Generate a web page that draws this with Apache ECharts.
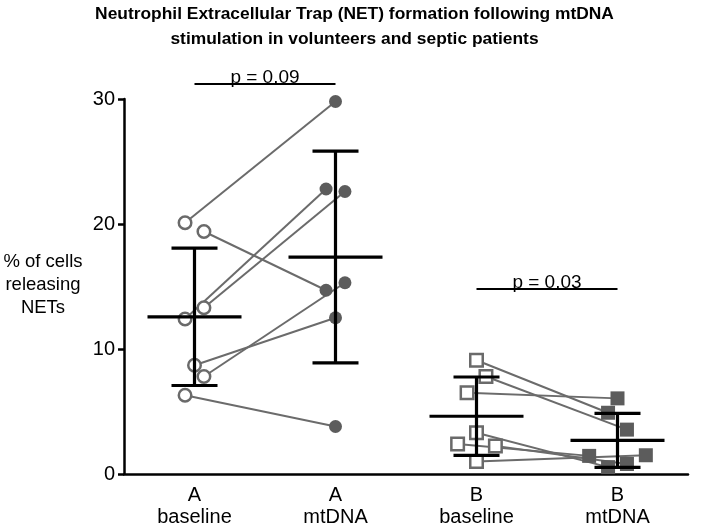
<!DOCTYPE html>
<html>
<head>
<meta charset="utf-8">
<script src="https://cdn.jsdelivr.net/npm/echarts@6/dist/echarts.min.js"></script>
<style>html,body{margin:0;padding:0;background:#fff}#c{width:709px;height:524px}</style>
</head>
<body>
<div id="c"></div>
<script>
// ---- data ----
const categories = ['A\nbaseline', 'A\nmtDNA', 'B\nbaseline', 'B\nmtDNA'];
const yTicks = [0, 10, 20, 30];
// paired subjects (same index = same subject)
const aBaseline = [20.1, 19.4, 12.4, 13.3, 8.7, 7.8, 6.3];
const aMtDNA    = [29.8, 14.7, 22.8, 22.6, 12.5, 15.3, 3.8];
const bBaseline = [9.1, 7.8, 6.5, 3.3, 2.4, 2.25, 1.0];
const bMtDNA    = [4.9, 3.55, 6.05, 0.55, 1.45, 0.8, 1.5];
// horizontal scatter (jitter) steps of the points, per subject
const aBaseJit = [-1, 1, -1, 1, 0, 1, -1];
const aMtJit   = [0, -1, -1, 1, 0, 1, 0];
const bBaseJit = [0, 1, -1, 0, -2, 2, 0];
const bMtJit   = [-1, 1, 0, -1, -3, 1, 3];
const pValues = [
  {from: 0, to: 1, y: 31.2, text: 'p = 0.09'},
  {from: 2, to: 3, y: 14.8, text: 'p = 0.03'}
];

// ---- helpers ----
const JSTEP = 0.067;
const FONT = '"Liberation Sans", Arial, Helvetica, sans-serif';
function mean(a){ return a.reduce((s,v)=>s+v,0)/a.length; }
function sd(a){ const m=mean(a); return Math.sqrt(a.reduce((s,v)=>s+(v-m)*(v-m),0)/(a.length-1)); }
function pts(vals, jit, cat){ return vals.map((v,i)=>[cat + jit[i]*JSTEP, v]); }

const groups = [aBaseline, aMtDNA, bBaseline, bMtDNA];
const stats = groups.map((g,i)=>[i, mean(g), sd(g)]);

const series = [];
// connecting lines
function pairLines(base, mt, bj, mj, c0){
  base.forEach((v,i)=>{
    series.push({
      type:'line', xAxisIndex:1, symbol:'none', silent:true, z:1,
      lineStyle:{color:'#6b6b6b', width:2},
      data:[[c0 + bj[i]*JSTEP, v],[c0+1 + mj[i]*JSTEP, mt[i]]]
    });
  });
}
pairLines(aBaseline, aMtDNA, aBaseJit, aMtJit, 0);
pairLines(bBaseline, bMtDNA, bBaseJit, bMtJit, 2);

// markers
series.push({type:'scatter', xAxisIndex:1, z:3, symbol:'circle', symbolSize:12.5,
  itemStyle:{color:'#fff', borderColor:'#6a6a6a', borderWidth:2.5, opacity:1},
  data: pts(aBaseline, aBaseJit, 0)});
series.push({type:'scatter', xAxisIndex:1, z:3, symbol:'circle', symbolSize:13,
  itemStyle:{color:'#5c5c5c', opacity:1},
  data: pts(aMtDNA, aMtJit, 1)});
series.push({type:'scatter', xAxisIndex:1, z:3, symbol:'rect', symbolSize:12.5,
  itemStyle:{color:'#fff', borderColor:'#6a6a6a', borderWidth:2.5, opacity:1},
  data: pts(bBaseline, bBaseJit, 2)});
series.push({type:'scatter', xAxisIndex:1, z:3, symbol:'rect', symbolSize:14,
  itemStyle:{color:'#5c5c5c', opacity:1},
  data: pts(bMtDNA, bMtJit, 3)});

// mean +/- SD bars
series.push({
  type:'custom', xAxisIndex:1, z:5, silent:true, clip:false,
  data: stats,
  renderItem: function(params, api){
    const x = api.value(0), m = api.value(1), s = api.value(2);
    const c = api.coord([x, m]), t = api.coord([x, m+s]), b = api.coord([x, m-s]);
    const st = {stroke:'#000', lineWidth:3.2};
    const MH = 47, CH = 23;
    return {type:'group', children:[
      {type:'line', shape:{x1:c[0], y1:t[1], x2:c[0], y2:b[1]}, style:st},
      {type:'line', shape:{x1:c[0]-CH, y1:t[1], x2:c[0]+CH, y2:t[1]}, style:st},
      {type:'line', shape:{x1:c[0]-CH, y1:b[1], x2:c[0]+CH, y2:b[1]}, style:st},
      {type:'line', shape:{x1:c[0]-MH, y1:c[1], x2:c[0]+MH, y2:c[1]}, style:st}
    ]};
  }
});

// p-value brackets
series.push({
  type:'custom', xAxisIndex:1, z:5, silent:true, clip:false,
  data: pValues.map(p=>[p.from, p.to, p.y]),
  renderItem: function(params, api){
    const p0 = api.coord([api.value(0), api.value(2)]);
    const p1 = api.coord([api.value(1), api.value(2)]);
    return {type:'group', children:[
      {type:'line', shape:{x1:p0[0], y1:p0[1], x2:p1[0], y2:p1[1]}, style:{stroke:'#000', lineWidth:2}},
      {type:'text', x:(p0[0]+p1[0])/2, y:p0[1]+3, style:{text: pValues[params.dataIndex].text,
        fontSize:19, fontFamily:FONT, fill:'#000', align:'center', verticalAlign:'bottom'}}
    ]};
  }
});

const chart = echarts.init(document.getElementById('c'), null, {renderer:'canvas'});
chart.setOption({
  animation:false,
  backgroundColor:'#fff',
  title:{
    text:'Neutrophil Extracellular Trap (NET) formation following mtDNA\nstimulation in volunteers and septic patients',
    left:'center', top:2, padding:0,
    textStyle:{fontSize:17.4, fontWeight:'bold', fontFamily:FONT, color:'#000', lineHeight:25}
  },
  grid:{left:124, right:21, top:99, bottom:50, containLabel:false, outerBoundsMode:'none'},
  xAxis:[
    {type:'category', data:categories, boundaryGap:true,
     axisLine:{lineStyle:{color:'#000', width:2.5}},
     axisTick:{alignWithLabel:true, length:6, lineStyle:{color:'#000', width:2.5}},
     axisLabel:{fontSize:20, fontFamily:FONT, color:'#000', lineHeight:22, margin:10},
     splitLine:{show:false}},
    {type:'value', min:-0.5, max:3.5, show:false, splitLine:{show:false}}
  ],
  yAxis:{type:'value', min:yTicks[0], max:yTicks[yTicks.length-1], interval:10,
    axisLine:{show:true, onZero:false, lineStyle:{color:'#000', width:2.5}},
    axisTick:{show:true, length:6, lineStyle:{color:'#000', width:2.5}},
    axisLabel:{fontSize:20, fontFamily:FONT, color:'#000', margin:9},
    splitLine:{show:false}},
  graphic:[{type:'text', x:43, y:285, style:{text:'% of cells\nreleasing\nNETs', fontSize:18.5,
    fontFamily:FONT, fill:'#000', align:'center', verticalAlign:'middle', lineHeight:23}}],
  series: series
});
</script>
</body>
</html>
